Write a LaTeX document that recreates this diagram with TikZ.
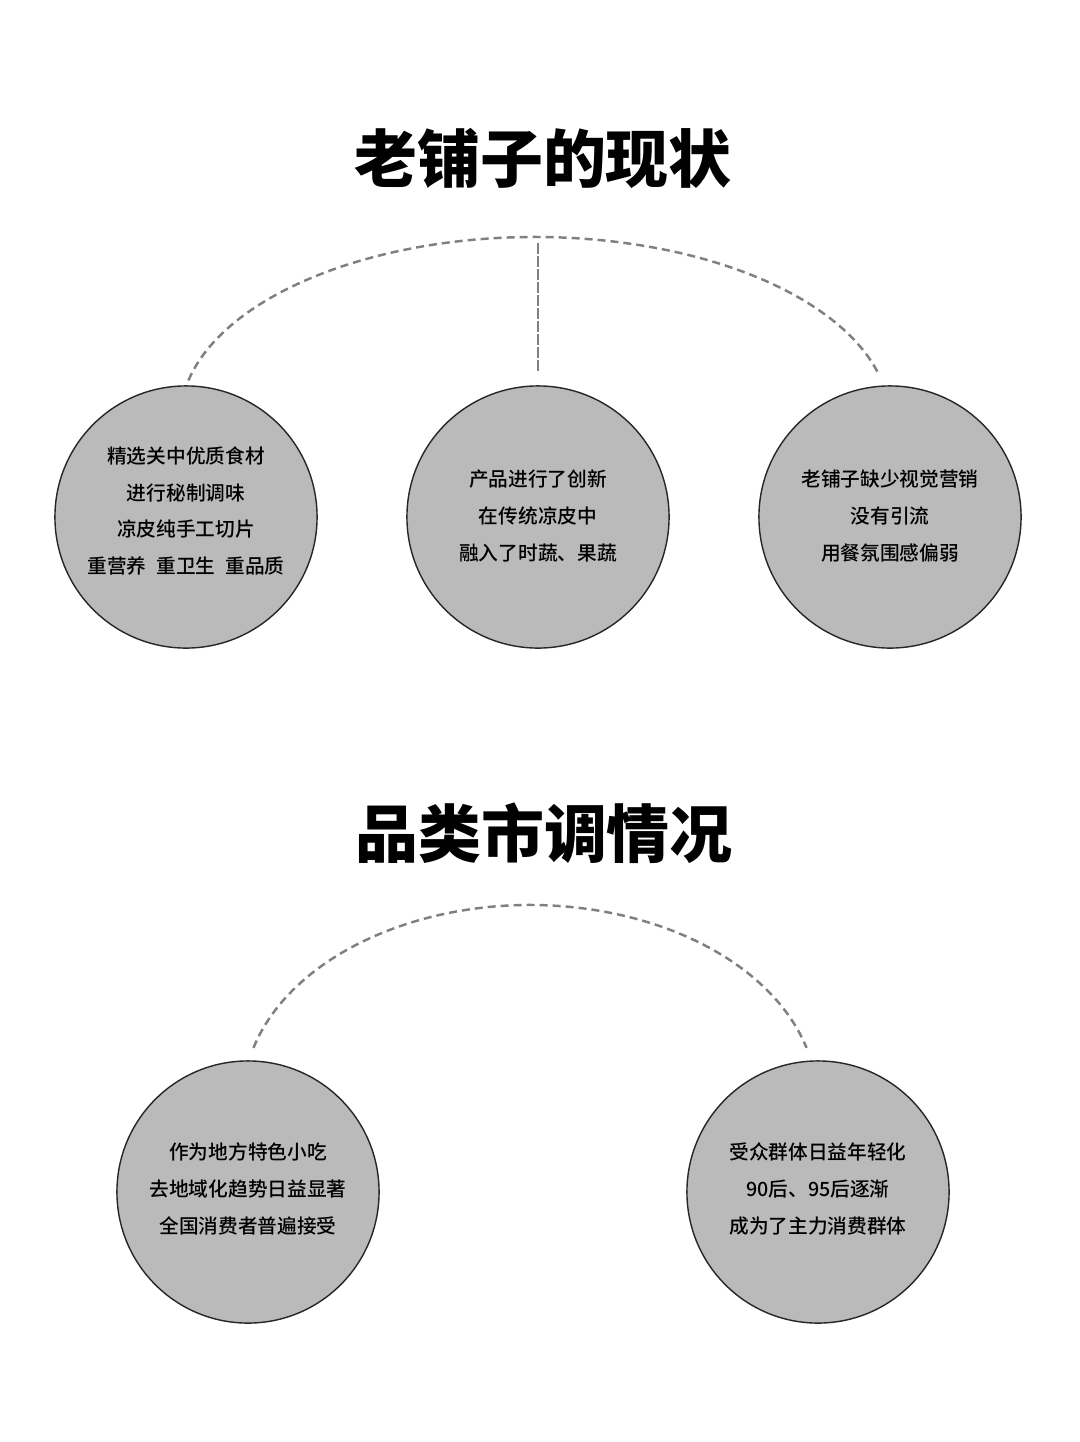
\documentclass[tikz,border=0pt]{standalone}
\usepackage{fontspec}
\setmainfont{Noto Sans CJK SC}
\newfontfamily\bubblefont{Noto Sans CJK SC Medium}
\newfontfamily\headfont{Noto Sans CJK SC Black}
\begin{document}
\begin{tikzpicture}[x=0.01cm,y=-0.01cm,
  bubble/.style={circle,draw=black!85,line width=0.4pt,fill=black!27,
    minimum size=2.62cm,inner sep=0pt},
  note/.style={align=center,inner sep=0pt,
    font=\bubblefont\fontsize{5.6}{10.4}\selectfont},
  heading/.style={font=\headfont\fontsize{17.9}{20}\selectfont},
  arcline/.style={draw=black!50,line width=0.7pt,dash pattern=on 0.8mm off 0.5mm},
  stemline/.style={draw=black!50,line width=0.35pt,dash pattern=on 1.1mm off 0.2mm}]
\useasboundingbox (0,0) rectangle (1080,1442);
\fill[white] (0,0) rectangle (1080,1442);

% first part
\node[heading] (now) at (543,158) {老铺子的现状};

\draw[arcline] (535,420) ++(-167.5:355 and 183) arc (-167.5:-15:355 and 183);
\coordinate (stemtop) at (538,243);
\coordinate (stembot) at (538,373);
\draw[stemline] (stemtop) -- (stembot);

\node[bubble] (food) at (186,517) {};
\node[bubble] (newidea) at (538,517) {};
\node[bubble] (market) at (890,517) {};
\node[note] (foodtext) at (186,511) {精选关中优质食材\\进行秘制调味\\凉皮纯手工切片\\重营养\enspace 重卫生\enspace 重品质};
\node[note] (newideatext) at (538,516) {产品进行了创新\\在传统凉皮中\\融入了时蔬、果蔬};
\node[note] (markettext) at (890,516) {老铺子缺少视觉营销\\没有引流\\用餐氛围感偏弱};

% second part
\node[heading] (survey) at (544,833) {品类市调情况};

\draw[arcline] (530,1100) ++(-164.5:287 and 195) arc (-164.5:-15.5:287 and 195);

\node[bubble] (snack) at (248,1192) {};
\node[bubble] (young) at (818,1192) {};
\node[note] (snacktext) at (248,1189) {作为地方特色小吃\\去地域化趋势日益显著\\全国消费者普遍接受};
\node[note] (youngtext) at (818,1189) {受众群体日益年轻化\\90后、95后逐渐\\成为了主力消费群体};
\end{tikzpicture}
\end{document}
